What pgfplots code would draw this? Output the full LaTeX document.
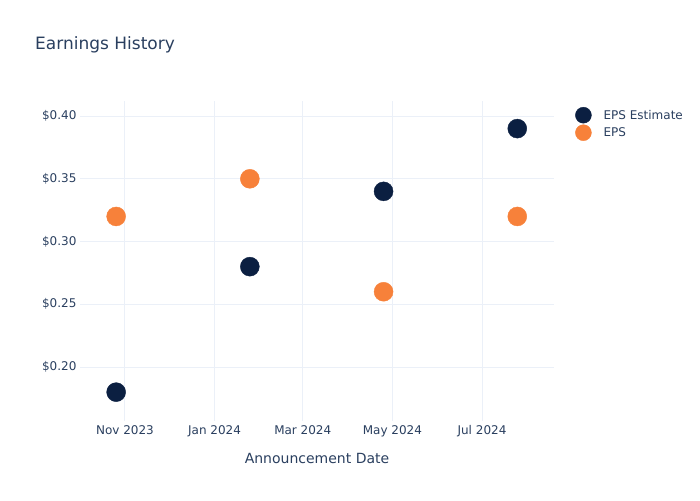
\documentclass[border=0pt]{standalone}
\usepackage{fontspec}
\setmainfont{DejaVu Sans}
\usepackage{pgfplots}
\pgfplotsset{compat=1.18}
\definecolor{txt}{HTML}{2A3F5F}
\definecolor{gridc}{HTML}{EBF0F8}
\definecolor{navy}{HTML}{0B1F41}
\definecolor{orng}{HTML}{F7813A}
\begin{document}
\begin{tikzpicture}[x=1pt,y=1pt]
\useasboundingbox (0,0) rectangle (700,500);
\node[anchor=west,text=txt,font=\fontsize{17}{20}\selectfont,inner sep=0pt] at (35,455) {Earnings History};
\begin{axis}[
  at={(80pt,79pt)}, anchor=south west,
  scale only axis, width=474pt, height=320pt,
  xmin=-30.6, xmax=292, ymin=0.157, ymax=0.412,
  axis line style={draw=none},
  major tick length=0pt,
  grid=major,
  major grid style={gridc, line width=1pt},
  xtick={0,61,121,182,243},
  xticklabels={Nov 2023,Jan 2024,Mar 2024,May 2024,Jul 2024},
  ytick={0.20,0.25,0.30,0.35,0.40},
  yticklabel={\$\pgfmathprintnumber[fixed,fixed zerofill,precision=2]{\tick}},
  /pgf/number format/assume math mode=true,
  tick label style={text=txt,font=\fontsize{12}{14}\selectfont},
  xticklabel style={yshift=-1pt},
  xlabel={Announcement Date},
  xlabel style={text=txt,font=\fontsize{14}{16}\selectfont,yshift=-9pt},
  legend style={draw=none, fill=none, at={(1,1)}, anchor=north west, xshift=18pt, yshift=-4pt,
    font=\fontsize{12}{14}\selectfont, text=txt, row sep=1.5pt},
  legend cell align=left,
  legend image code/.code={\draw[#1,mark size=8pt] plot coordinates {(0pt,0pt)}; \path (-8pt,0pt) (18pt,0pt);},
]
\addplot[only marks, mark=*, mark size=9.5pt, navy, mark options={fill=navy, draw=navy}] coordinates {
(-6,0.18) (85,0.28) (176,0.34) (267,0.39)};
\addlegendentry{EPS Estimate}
\addplot[only marks, mark=*, mark size=9.5pt, orng, mark options={fill=orng, draw=orng}] coordinates {
(-6,0.32) (85,0.35) (176,0.26) (267,0.32)};
\addlegendentry{EPS}
\end{axis}
\end{tikzpicture}
\end{document}
